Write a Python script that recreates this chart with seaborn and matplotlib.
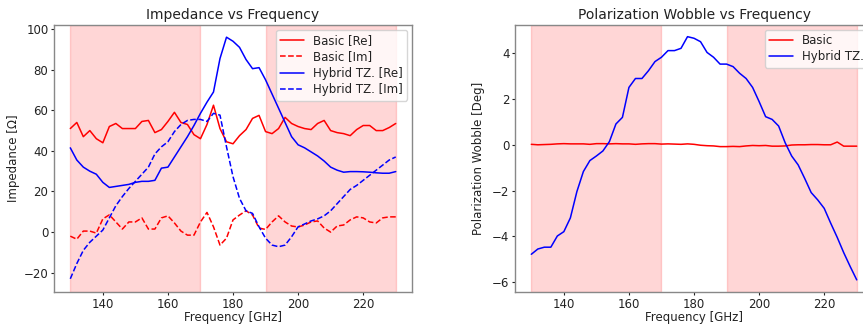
import numpy as np
import pandas as pd
import seaborn as sns
import matplotlib
matplotlib.use("Agg")
import matplotlib.pyplot as plt

freq = np.arange(130, 231, 2)

basic_re = [51, 54, 47, 50, 46, 44, 52, 53.5, 51, 51, 51, 54.5, 55, 49, 50.5, 54.5, 59, 54, 53, 48,
            46, 53, 62.5, 51, 44.5, 43.5, 47.5, 50.5, 56, 57.5, 49.5, 48.5, 51, 56.5, 53.5, 52, 51,
            50.5, 53.5, 55, 50, 49, 48.5, 47.5, 50.5, 52.5, 52.5, 50, 50, 51.5, 53.5]
basic_im = [-2, -3.5, 0.5, 0.5, -0.5, 6.5, 8.5, 5, 1.5, 5, 5, 7, 1.5, 1.5, 7, 8, 4.5, 0.5, -1.5, -1.5,
            5, 9.7, 2.6, -6.4, -3, 6, 8.4, 10.5, 8.4, 2, 1.3, 5, 8, 5, 3, 2.5, 3.5, 5, 5.5, 2,
            0, 3, 3.5, 6, 7.5, 7, 5, 4.5, 7, 7.5, 7.5]
hybrid_re = [41.5, 35.5, 32, 30, 28.5, 24.5, 22, 22.5, 23, 23.5, 24.5, 25, 25, 25.5, 31.5, 32, 37,
             42, 47, 52.5, 58.5, 64, 69, 85.5, 96, 94, 91, 85, 80.5, 81, 75, 68, 61, 54, 47,
             43, 41.5, 39.5, 37.5, 35, 32, 30.5, 29.5, 29.8, 29.8, 29.7, 29.5, 29.2, 29, 29, 29.8]
hybrid_im = [-23, -15.5, -9, -5, -2, 1, 7, 13, 17.5, 21.5, 25, 28.5, 32, 38.5, 42, 44.5, 49.5, 53,
             55, 55.5, 55.5, 54.5, 58.5, 57.6, 42, 27.3, 16.6, 10.5, 9.2, 2.6, -3, -6.4, -7.2, -6.4,
             -2.3, 2.6, 4, 5.5, 6.5, 8, 10.5, 14, 17.5, 21, 23, 25.5, 28, 30.5, 33, 35.5, 37]

wobble_basic = [0.02, 0.0, 0.01, 0.02, 0.04, 0.05, 0.04, 0.04, 0.04, 0.02, 0.05, 0.05, 0.04, 0.05,
                0.04, 0.04, 0.02, 0.04, 0.05, 0.05, 0.03, 0.04, 0.03, 0.02, 0.04, 0.02, -0.02,
                -0.04, -0.05, -0.08, -0.08, -0.07, -0.08, -0.05, -0.03, -0.04, -0.03, -0.06,
                -0.06, -0.05, -0.01, 0.0, 0.0, 0.01, 0.01, 0.0, 0.0, 0.12, -0.06, -0.06, -0.06]
wobble_hybrid = [-4.79, -4.56, -4.48, -4.48, -3.99, -3.8, -3.2, -2.05, -1.17, -0.69, -0.49, -0.27,
                 0.14, 0.91, 1.2, 2.51, 2.9, 2.9, 3.24, 3.64, 3.83, 4.12, 4.12, 4.22, 4.73, 4.66,
                 4.51, 4.04, 3.83, 3.53, 3.53, 3.42, 3.13, 2.9, 2.51, 1.89, 1.23, 1.11, 0.82,
                 0.09, -0.49, -0.88, -1.47, -2.09, -2.41, -2.78, -3.43, -4.05, -4.72, -5.33, -5.91]

bands = [(130, 170), (190, 230)]

sns.set_style("white")
plt.rcParams.update({
    "font.family": ["DejaVu Sans"],
    "axes.edgecolor": "#888888",
    "axes.linewidth": 1.0,
    "text.color": "#222222",
    "axes.labelcolor": "#222222",
    "xtick.color": "#222222",
    "ytick.color": "#222222",
    "xtick.bottom": True,
    "ytick.left": True,
    "xtick.major.size": 2.5,
    "ytick.major.size": 2.5,
    "xtick.major.pad": 1.5,
    "ytick.major.pad": 1.5,
    "xtick.major.width": 0.8,
    "ytick.major.width": 0.8,
    "xtick.labelsize": 8.5,
    "ytick.labelsize": 8.5,
    "axes.labelsize": 8.5,
    "axes.titlesize": 10,
    "legend.fontsize": 8.5,
})

fig = plt.figure(figsize=(8.63, 3.24), dpi=100)
ax1 = fig.add_axes([0.0626, 0.0988, 0.4148, 0.824])
ax2 = fig.add_axes([0.5968, 0.0988, 0.4148, 0.824])

for ax in (ax1, ax2):
    for a, b in bands:
        ax.axvspan(a, b, color="red", alpha=0.16, lw=1)

sns.lineplot(x=freq, y=basic_re, color="red", lw=1.1, label="Basic [Re]", ax=ax1)
sns.lineplot(x=freq, y=basic_im, color="red", lw=1.1, linestyle="--", label="Basic [Im]", ax=ax1)
sns.lineplot(x=freq, y=hybrid_re, color="blue", lw=1.1, label="Hybrid TZ. [Re]", ax=ax1)
sns.lineplot(x=freq, y=hybrid_im, color="blue", lw=1.1, linestyle="--", label="Hybrid TZ. [Im]", ax=ax1)
ax1.set_title("Impedance vs Frequency", pad=4)
ax1.set_xlabel("Frequency [GHz]", labelpad=0)
ax1.set_ylabel("Impedance [Ω]", labelpad=3)
ax1.set_xlim(125, 235)
ax1.set_ylim(-29.5, 102)
ax1.set_xticks([140, 160, 180, 200, 220])
ax1.set_yticks([-20, 0, 20, 40, 60, 80, 100])
ax1.legend(loc="upper right", handlelength=2.0, labelspacing=0.3, borderpad=0.35,
           handletextpad=0.8, borderaxespad=0.4)

sns.lineplot(x=freq, y=wobble_basic, color="red", lw=1.1, label="Basic", ax=ax2)
sns.lineplot(x=freq, y=wobble_hybrid, color="blue", lw=1.1, label="Hybrid TZ.", ax=ax2)
ax2.set_title("Polarization Wobble vs Frequency", pad=4)
ax2.set_xlabel("Frequency [GHz]", labelpad=0)
ax2.set_ylabel("Polarization Wobble [Deg]", labelpad=5)
ax2.set_xlim(125, 235)
ax2.set_ylim(-6.44, 5.24)
ax2.set_xticks([140, 160, 180, 200, 220])
ax2.set_yticks([-6, -4, -2, 0, 2, 4])
ax2.legend(loc="upper right", handlelength=2.0, labelspacing=0.3, borderpad=0.35,
           handletextpad=0.8, borderaxespad=0.4)

fig.savefig("out.png", dpi=100)
